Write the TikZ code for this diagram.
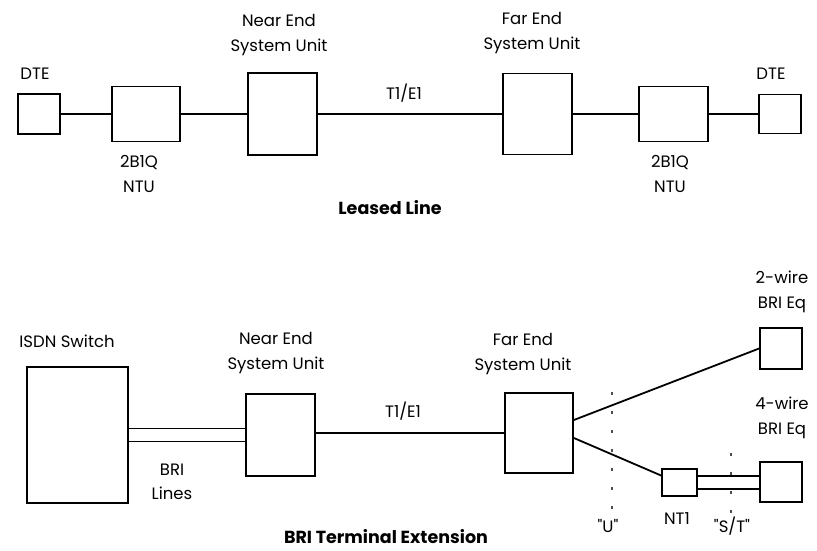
\documentclass[tikz,border=0pt]{standalone}
\usepackage{fontspec}
\setmainfont{Poppins}
\usetikzlibrary{positioning}

\begin{document}
\begin{tikzpicture}[x=1pt,y=-1pt,line width=1.8pt,font=\fontsize{16.5}{24.5}\selectfont]
  \tikzset{box/.style={draw,rectangle,inner sep=0pt},
           lbl/.style={align=center,inner sep=0pt,font=\fontsize{16.5}{24.5}\selectfont},
           title/.style={inner sep=0pt,font=\fontsize{17.5}{21}\selectfont\bfseries},
           refpt/.style={draw=black!70,line width=1.3pt,dash pattern=on 3pt off 16pt}}
  \useasboundingbox (0,0) rectangle (817,550);
  % leased line
  \node[box,minimum width=42,minimum height=40] (dte1) at (39,114)    {};
  \node[box,minimum width=68,minimum height=55] (ntu1) at (146,114)   {};
  \node[box,minimum width=69,minimum height=82] (near1) at (282.5,114) {};
  \node[box,minimum width=69,minimum height=81] (far1) at (537.5,114) {};
  \node[box,minimum width=69,minimum height=55] (ntu2) at (673.5,114) {};
  \node[box,minimum width=42,minimum height=39] (dte2) at (780,114)   {};
  \draw (dte1) -- (ntu1) (ntu1) -- (near1) (near1) -- (far1) (far1) -- (ntu2) (ntu2) -- (dte2);
  \node[lbl] (dte1t) at (35,74) {DTE};
  \node[lbl] (ntu1t) at (139,174) {2B1Q\\NTU};
  \node[lbl] (near1t) at (279,35) {Near End\\System Unit};
  \node[lbl] (t1a) at (404,93) {T1/E1};
  \node[lbl] (far1t) at (532,33) {Far End\\System Unit};
  \node[lbl] (ntu2t) at (670,174) {2B1Q\\NTU};
  \node[lbl] (dte2t) at (771,74) {DTE};
  \node[title] (leased) at (390,208) {Leased Line};
  % BRI terminal extension
  \node[box,minimum width=101,minimum height=136] (isdn) at (77.5,435) {};
  \node[box,minimum width=69,minimum height=82] (near2) at (280.5,435) {};
  \node[box,minimum width=68,minimum height=80] (far2) at (539,433) {};
  \node[box,minimum width=42,minimum height=41] (bri2) at (781,348.5) {};
  \node[box,minimum width=35,minimum height=27] (nt1) at (679.5,482.5) {};
  \node[box,minimum width=42,minimum height=40] (bri4) at (781,482) {};
  \foreach \dy in {-6.5,6.5}{
    \draw ([yshift=\dy]isdn.east) -- ([yshift=\dy]isdn.east -| near2.west);
    \draw ([yshift=\dy]nt1.east) -- ([yshift=\dy]nt1.east -| bri4.west);
  }
  \draw (near2.east |- far2) -- (far2);
  \draw ([yshift=13]far2.east) -- (bri2.west);
  \draw ([yshift=-5]far2.east) -- ([yshift=7]nt1.west);
  \coordinate (u1) at (612,392);  \coordinate (u2) at (612,514);
  \coordinate (st1) at (731,453); \coordinate (st2) at (731,514);
  \draw[refpt] (u1) -- (u2);
  \draw[refpt] (st1) -- (st2);
  \node[lbl] (isdnt) at (67,341) {ISDN Switch};
  \node[lbl] (brit) at (172,482) {BRI\\Lines};
  \node[lbl] (near2t) at (276,353) {Near End\\System Unit};
  \node[lbl] (t1b) at (403,411) {T1/E1};
  \node[lbl] (far2t) at (523,354) {Far End\\System Unit};
  \node[lbl] (bri2t) at (782,292) {2-wire\\BRI Eq};
  \node[lbl] (bri4t) at (782,418) {4-wire\\BRI Eq};
  \node[lbl] (nt1t) at (677,519) {NT1};
  \node[lbl] (ut) at (608,526) {\textquotedbl U\textquotedbl};
  \node[lbl] (stt) at (732,526) {\textquotedbl S/T\textquotedbl};
  \node[title] (brit2) at (386,537) {BRI Terminal Extension};
\end{tikzpicture}
\end{document}
